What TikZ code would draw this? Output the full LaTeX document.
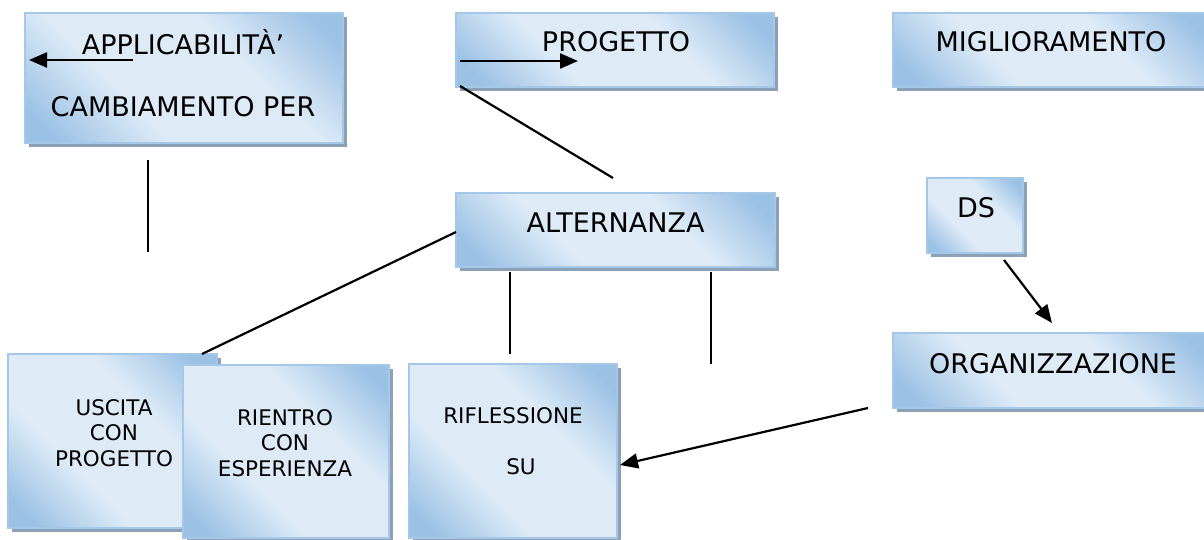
\documentclass[tikz,border=0pt]{standalone}
\usepackage{fontspec}
\setmainfont{DejaVu Sans}
\usetikzlibrary{arrows.meta,shadows}
\definecolor{bdark}{RGB}{155,193,229}
\definecolor{blight}{RGB}{222,235,247}
\definecolor{bline}{RGB}{166,200,232}
\definecolor{bshadow}{RGB}{140,160,184}
\pgfdeclarehorizontalshading{boxshade}{100bp}{color(0bp)=(bdark); color(20bp)=(bdark); color(38bp)=(blight); color(62bp)=(blight); color(80bp)=(bdark); color(100bp)=(bdark)}
\tikzset{
    box/.style = {draw = bline, line width = 1.2pt, shading = boxshade, shading angle = 45, inner sep = 0pt,
        drop shadow = {shadow xshift = 4pt, shadow yshift = -4pt, fill = bshadow, opacity = 1}},
    big/.style = {font = \fontsize{27}{32}\selectfont, inner sep = 0pt},
    small/.style = {font = \fontsize{21.5}{25.5}\selectfont, inner sep = 0pt, align = center},
    arr/.style = {line width = 2.2pt, -{Triangle[length = 18pt, width = 15pt]}}
}
\begin{document}
    \begin{tikzpicture}[x = 1pt, y = -1pt]
        \useasboundingbox (0, 0) rectangle (1204, 540);
        % top row
        \node[box, minimum width = 318, minimum height = 130](appl) at (184, 78){};
        \node[big](applt) at (183, 42){APPLICABILITÀ’};
        \node[big](cambt) at (183, 107){CAMBIAMENTO PER};
        \node[box, minimum width = 318, minimum height = 74](prog) at (615, 50){};
        \node[big](progt) at (616, 42){PROGETTO};
        \node[box, minimum width = 318, minimum height = 74](migl) at (1052, 50){};
        \node[big](miglt) at (1051, 42){MIGLIORAMENTO};
        % middle row
        \node[box, minimum width = 319, minimum height = 74](alt) at (615.5, 230){};
        \node[big](altt) at (615.5, 223){ALTERNANZA};
        \node[box, minimum width = 96, minimum height = 75](ds) at (975, 215.5){};
        \node[big](dst) at (976, 208){DS};
        \node[box, minimum width = 318, minimum height = 75](org) at (1052, 370.5){};
        \node[big](orgt) at (1053, 364){ORGANIZZAZIONE};
        % bottom row
        \node[box, minimum width = 209, minimum height = 174](usc) at (112.5, 441){};
        \node[small](usct) at (114, 433){USCITA\\CON\\PROGETTO};
        \node[box, minimum width = 206, minimum height = 173](rie) at (286, 451.5){};
        \node[small](riet) at (285, 443){RIENTRO\\CON\\ESPERIENZA};
        \node[box, minimum width = 208, minimum height = 174](rif) at (513, 451){};
        \node[small](rift) at (513, 416){RIFLESSIONE};
        \node[small](sut) at (521, 467){SU};
        % free ends
        \coordinate(a1) at (133, 60);
        \coordinate(a2) at (29, 60);
        \coordinate(p1) at (460, 61);
        \coordinate(p2) at (578, 61);
        \coordinate(v1) at (148, 160);
        \coordinate(v2) at (148, 252);
        \coordinate(q1) at (460, 86);
        \coordinate(q2) at (613, 178);
        \coordinate(u1) at (456, 232);
        \coordinate(u2) at (202, 354);
        \coordinate(r1) at (510, 272);
        \coordinate(r2) at (510, 354);
        \coordinate(s1) at (711, 272);
        \coordinate(s2) at (711, 364);
        \coordinate(d1) at (1004, 260);
        \coordinate(d2) at (1052, 323);
        \coordinate(o1) at (868, 408);
        \coordinate(o2) at (620, 465);
        % connectors
        \draw[arr] (a1) -- (a2);
        \draw[arr] (p1) -- (p2);
        \draw[line width = 2.2pt] (v1) -- (v2);
        \draw[line width = 2.2pt] (q1) -- (q2);
        \draw[line width = 2.2pt] (u1) -- (u2);
        \draw[line width = 2.2pt] (r1) -- (r2);
        \draw[line width = 2.2pt] (s1) -- (s2);
        \draw[arr] (d1) -- (d2);
        \draw[arr] (o1) -- (o2);
    \end{tikzpicture}
\end{document}
